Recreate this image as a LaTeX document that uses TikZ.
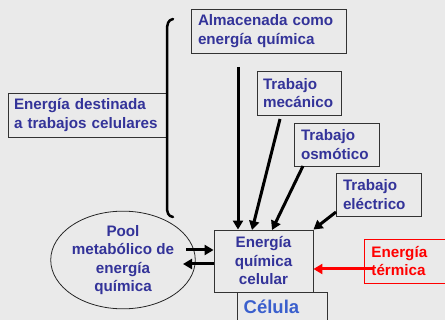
\documentclass[tikz,border=0pt]{standalone}
\usepackage{fontspec}
\setmainfont{Liberation Sans}
\usetikzlibrary{arrows.meta,shapes.geometric}
\definecolor{bg}{HTML}{EAEAEA}
\definecolor{txtblue}{HTML}{333399}
\definecolor{celblue}{HTML}{3A5FCD}
\begin{document}
\begin{tikzpicture}[x=1pt,y=-1pt,
  lbl/.style={font=\fontsize{15.2}{18.5}\selectfont\bfseries, text=txtblue},
  box/.style={lbl, draw=black!80, line width=0.9pt, fill=bg, inner ysep=0pt, align=left},
  conn/.style={line width=3pt, -{Triangle[width=10pt,length=9pt]}},
  bracestyle/.style={line width=2.5pt, line cap=round}]
\useasboundingbox[fill=bg] (0,0) rectangle (445,320);

% boxes
\node[box, minimum width=158pt, minimum height=44pt, text width=146pt, inner xsep=6pt] (destin) at (87,115) {Energía destinada\\a trabajos celulares};
\node[box, minimum width=155pt, minimum height=44pt, text width=141pt, inner xsep=7pt] (almac) at (268.5,31) {Almacenada como\\energía química};
\node[box, minimum width=84pt, minimum height=44pt, text width=72pt, inner xsep=6pt] (mec) at (299,93) {Trabajo\\mecánico};
\node[box, minimum width=85pt, minimum height=43pt, text width=71pt, inner xsep=7pt] (osm) at (336.5,144.5) {Trabajo\\osmótico};
\node[box, minimum width=85pt, minimum height=43pt, text width=71pt, inner xsep=7pt] (elec) at (378.5,194.5) {Trabajo\\eléctrico};
\node[box, align=center, minimum width=99pt, minimum height=62pt, text width=91pt, inner xsep=4pt] (cent) at (263.5,261) {Energía\\química\\celular};
\node[box, draw=red, text=red, anchor=west, minimum width=92pt, minimum height=44pt, text width=78pt, inner xsep=7pt] (term) at (364,261) {Energía\\térmica};

% celula box
\draw[draw=black!80, line width=0.9pt, fill=bg] (237,292) rectangle (327,334);
\node[font=\fontsize{18.5}{22}\selectfont\bfseries, text=celblue, anchor=west, inner sep=0pt] (celula) at (243.5,307) {Célula};

% ellipse
\node[lbl, draw=black!85, line width=0.8pt, ellipse, minimum width=138pt, minimum height=93pt, inner sep=0pt, align=center,
  font=\fontsize{15.2}{18.3}\selectfont\bfseries] (pool) at (123,260) {Pool\\metabólico de\\energía\\química};

% brace
\draw[bracestyle] (173,19) .. controls (168,20) and (167,24) .. (167,31) -- (167,206) .. controls (167,213) and (168,216) .. (173,217);

% connectors
\coordinate (s0) at (238,67);
\coordinate (s1) at (280,119);
\coordinate (s2) at (303,166);
\coordinate (s3) at (336,212);
\coordinate (t1) at (252,230);
\coordinate (t2) at (272,230);
\draw[conn] (s0) -- (cent.north -| s0);
\draw[conn] (s1) -- (t1);
\draw[conn] (s2) -- (t2);
\draw[conn] (s3) -- (cent.north east);
\coordinate (p1) at (186,250);
\coordinate (p2) at (183,264);
\coordinate (r1) at (373,269);
\draw[conn] (p1) -- (cent.west |- p1);
\draw[conn] (cent.west |- p2) -- (p2);
\draw[conn, red] (r1) -- (cent.east |- r1);
\end{tikzpicture}
\end{document}
